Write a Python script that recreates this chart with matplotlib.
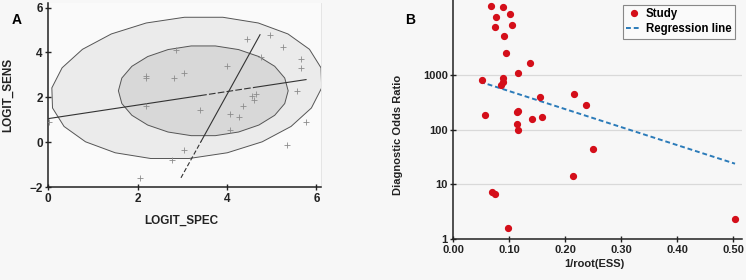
import numpy as np
import matplotlib.pyplot as plt

plt.rcParams['font.family'] = ['Liberation Sans', 'DejaVu Sans']
plt.rcParams['font.weight'] = 'bold'
plt.rcParams['axes.labelweight'] = 'bold'

# Panel A: logit specificity / sensitivity for each study
logit_spec = [4.44, 4.97, 5.26, 2.86, 5.65, 5.65, 4.01, 4.76, 2.19, 2.19,
              3.04, 2.82, 5.57, 4.56, 4.65, 4.61, 2.18, 4.36, 3.39, 4.06,
              4.26, 4.06, 5.77, 5.35, 3.04, 2.76, 2.05, 0.02]
logit_sens = [4.58, 4.79, 4.24, 4.12, 3.70, 3.29, 3.41, 3.79, 2.96, 2.84,
              3.07, 2.86, 2.27, 2.07, 2.13, 1.87, 1.61, 1.63, 1.45, 1.27,
              1.14, 0.56, 0.89, -0.13, -0.37, -0.80, -1.61, 0.90]

# regression lines (end points) in panel A
line1_x = [0.0, 5.77]
line1_y = [1.05, 2.79]
line2_x = [2.97, 4.74]
line2_y = [-1.59, 4.79]

# confidence / prediction regions: centre, half width, half height, skew
outer_region = dict(cx=3.10, cy=2.42, a=3.02, b=3.18, skew=0.12)
inner_region = dict(cx=3.47, cy=2.29, a=1.90, b=2.02, skew=0.0)

# Panel B: diagnostic odds ratio vs 1/root(ESS)
inv_root_ess = [0.067, 0.088, 0.077, 0.101, 0.0744, 0.105, 0.090, 0.094, 0.137, 0.116,
                0.051, 0.089, 0.089, 0.085, 0.155, 0.215, 0.237, 0.057, 0.116, 0.113,
                0.141, 0.159, 0.113, 0.115, 0.249, 0.214, 0.069, 0.075, 0.097, 0.503]
dor = [18800, 17600, 11800, 13200, 7800, 8300, 5250, 2530, 1660, 1115,
       810, 880, 760, 655, 405, 447, 290, 190, 225, 212,
       155, 173, 128, 100, 45, 14.5, 7.4, 6.6, 1.58, 2.35]
reg_x = [0.048, 0.503]
reg_y = [760, 24]


def region(cx, cy, a, b, skew, n=22):
    t = np.linspace(0, 2 * np.pi, n + 1)
    y = cy + b * np.sin(t)
    x = cx + a * np.cos(t) + skew * (y - cy)
    return x, y


def split_line(xs, ys, y_cut=None, x_cut=None):
    # returns point on the line at given x or y
    if x_cut is not None:
        return x_cut, np.interp(x_cut, xs, ys)
    return np.interp(y_cut, ys, xs), y_cut


bg = '#f7f7f7'
fig = plt.figure(figsize=(7.46, 2.8), dpi=100, facecolor=bg)

# ---- Panel A ----
ax = fig.add_axes([0.0647, 0.332, 0.3653, 0.657])
ax.set_facecolor('#fafafa')
ox, oy = region(**outer_region)
ax.fill(ox, oy, facecolor='#ebebeb', edgecolor='#555555', lw=0.7, zorder=1)
ix, iy = region(**inner_region)
ax.fill(ix, iy, facecolor='#d8d8d8', edgecolor='#555555', lw=0.7, zorder=2)

# shallow line: solid, dashed middle, solid
xa, ya = split_line(line1_x, line1_y, x_cut=3.4)
xb, yb = split_line(line1_x, line1_y, x_cut=4.6)
ax.plot([line1_x[0], xa], [line1_y[0], ya], color='#333333', lw=0.8, zorder=3)
ax.plot([xa, xb], [ya, yb], color='#333333', lw=0.8, ls=(0, (6, 2)), zorder=3)
ax.plot([xb, line1_x[1]], [yb, line1_y[1]], color='#333333', lw=0.8, zorder=3)

# steep line: dashed at the bottom, solid above
xc, yc = split_line(line2_x, line2_y, y_cut=0.05)
ax.plot([line2_x[0], xc], [line2_y[0], yc], color='#333333', lw=0.8, ls=(0, (4, 2)), zorder=3)
ax.plot([xc, line2_x[1]], [yc, line2_y[1]], color='#333333', lw=0.8, zorder=3)

ax.plot(logit_spec, logit_sens, ls='none', marker='+', ms=4.5, mew=0.6, color='#8c8c8c', zorder=4)

ax.set_xlim(0, 6.1)
ax.set_ylim(-2, 6.2)
ax.set_xticks([0, 2, 4, 6])
ax.set_yticks([-2, 0, 2, 4, 6])
ax.tick_params(direction='inout', length=5, width=1, labelsize=8.5, colors='#222222', pad=1.5)
ax.spines['top'].set_visible(False)
ax.spines['right'].set_color('#e2e2e2')
ax.spines['right'].set_linewidth(0.6)
for s in ['left', 'bottom']:
    ax.spines[s].set_color('#222222')
    ax.spines[s].set_linewidth(1.1)
ax.set_xlabel('LOGIT_SPEC', fontsize=8.5, color='#222222')
ax.set_ylabel('LOGIT_SENS', fontsize=8.5, color='#222222')
ax.xaxis.set_label_coords(0.49, -0.151)
ax.yaxis.set_label_coords(-0.124, 0.5)
fig.text(0.022, 0.929, 'A', fontsize=10, fontweight='bold', ha='center', va='center')

# ---- Panel B ----
bx = fig.add_axes([0.6077, 0.1464, 0.3866, 0.8536])
bx.set_facecolor(bg)
bx.set_yscale('log')
bx.plot(inv_root_ess, dor, ls='none', marker='o', ms=4.2, color='#d40f1a', label='Study', zorder=3)
bx.plot(reg_x, reg_y, ls=(0, (2.5, 1.5)), lw=1.4, color='#2b7bb9', label='Regression line', zorder=2)
bx.set_xlim(0, 0.515)
bx.set_ylim(1, 10 ** 4.38)
bx.set_xticks([0, 0.1, 0.2, 0.3, 0.4, 0.5])
bx.set_xticklabels(['0.00', '0.10', '0.20', '0.30', '0.40', '0.50'])
bx.set_yticks([1, 10, 100, 1000])
bx.set_yticklabels(['1', '10', '100', '1000'])
bx.minorticks_off()
bx.yaxis.grid(True, color='#d9d9d9', lw=0.9)
bx.set_axisbelow(True)
bx.tick_params(direction='inout', length=5, width=1, labelsize=8, colors='#222222', pad=1.5)
for s in ['top', 'right']:
    bx.spines[s].set_visible(False)
for s in ['left', 'bottom']:
    bx.spines[s].set_color('#222222')
    bx.spines[s].set_linewidth(1.1)
bx.set_xlabel('1/root(ESS)', fontsize=8, color='#222222')
bx.set_ylabel('Diagnostic Odds Ratio', fontsize=8, color='#222222')
bx.xaxis.set_label_coords(0.49, -0.084)
bx.yaxis.set_label_coords(-0.175, 0.435)
leg = bx.legend(loc='upper right', bbox_to_anchor=(0.977, 0.979), fontsize=8.3,
                frameon=True, fancybox=False, framealpha=1, edgecolor='#888888',
                facecolor='#fafafa', handlelength=1.3, handletextpad=0.4,
                borderpad=0.3, labelspacing=0.25, borderaxespad=0)
leg.get_frame().set_linewidth(0.8)
fig.text(0.55, 0.929, 'B', fontsize=10, fontweight='bold', ha='center', va='center')

fig.savefig('out.png', dpi=100, facecolor=bg)
